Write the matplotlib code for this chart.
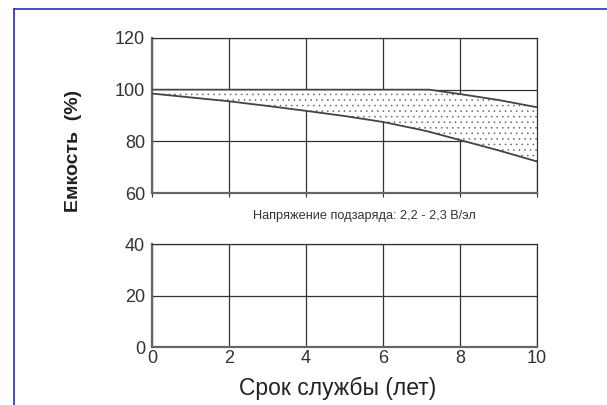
import matplotlib
matplotlib.use("Agg")
import matplotlib.pyplot as plt
from matplotlib.lines import Line2D

plt.rcParams['font.family'] = ['Liberation Sans', 'DejaVu Sans']
plt.rcParams['hatch.linewidth'] = 0.4

# Data
years = [0, 1, 2, 3, 4, 5, 6, 7, 7.2, 8, 9, 10]
upper = [100, 100, 100, 100, 100, 100, 100, 100, 100, 98.3, 96.0, 93.2]
lower = [98.5, 97.0, 95.5, 93.7, 91.8, 89.8, 87.5, 84.4, 83.7, 80.5, 76.5, 72.2]
x_ticks = [0, 2, 4, 6, 8, 10]
top_yticks = [60, 80, 100, 120]
bot_yticks = [0, 20, 40]
ylabel = "Емкость  (%)"
xlabel = "Срок службы (лет)"
note = "Напряжение подзаряда: 2,2 - 2,3 В/эл"

W, H = 607, 405
fig = plt.figure(figsize=(W / 100, H / 100), dpi=100)

def fx(px):
    return px / W

def fy(py):
    return 1 - py / H

grid_c = '#333333'
spine_c = '#666666'

ax_top = fig.add_axes([fx(152), fy(193), fx(537) - fx(152), fy(38) - fy(193)])
ax_bot = fig.add_axes([fx(152), fy(347), fx(537) - fx(152), fy(244) - fy(347)])

for ax, yt in ((ax_top, top_yticks), (ax_bot, bot_yticks)):
    ax.set_xlim(0, 10)
    ax.set_ylim(yt[0], yt[-1])
    ax.set_xticks(x_ticks)
    ax.set_yticks(yt)
    ax.grid(True, color=grid_c, linewidth=0.9)
    ax.set_axisbelow(True)
    for s in ('top', 'right'):
        ax.spines[s].set_color(grid_c)
        ax.spines[s].set_linewidth(0.9)
    for s in ('left', 'bottom'):
        ax.spines[s].set_color(spine_c)
        ax.spines[s].set_linewidth(1.6)
    ax.tick_params(axis='both', length=0, labelsize=13, labelcolor='#333333', pad=5)

ax_top.tick_params(axis='x', labelbottom=False, length=3, direction='out', color=grid_c)
ax_bot.tick_params(axis='x', pad=2)

ax_top.fill_between(years, lower, upper, facecolor='white', hatch='...',
                    edgecolor='#666666', linewidth=0, zorder=2)
ax_top.plot(years, upper, color='#444444', linewidth=1.3, zorder=3)
ax_top.plot(years, lower, color='#444444', linewidth=1.3, zorder=3)

fig.text(fx(73), fy(151), ylabel, rotation=90, ha='center', va='center',
         fontsize=14, fontweight='bold', color='#222222')
fig.text(fx(364), fy(216), note, ha='center', va='center', fontsize=9.2, color='#333333')
fig.text(fx(338), fy(388), xlabel, ha='center', va='center', fontsize=16.5, color='#222222')

# frame border
fig.add_artist(Line2D([fx(14), fx(14)], [0, fy(9)], color='#3b3bc8', linewidth=1.3))
fig.add_artist(Line2D([fx(14), 1], [fy(9), fy(9)], color='#3b3bc8', linewidth=1.3))

fig.savefig('out.png', dpi=100)
